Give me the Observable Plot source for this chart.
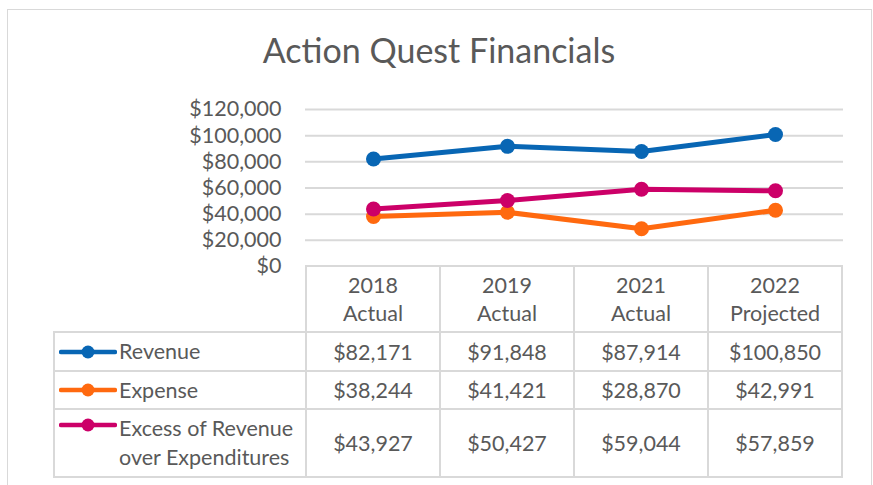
<!DOCTYPE html>
<html>
<head>
<meta charset="utf-8">
<script src="https://cdn.jsdelivr.net/npm/d3@7"></script>
<script src="https://cdn.jsdelivr.net/npm/@observablehq/plot@0.6"></script>
<style>
  html, body { margin: 0; padding: 0; background: #fff; }
  body { width: 873px; height: 485px; overflow: hidden; position: relative; font-family: Lato, "Open Sans", sans-serif; color: #595959; }
  #frame { position: absolute; left: 7px; top: 9px; width: 865px; height: 490px; border: 1.5px solid #d9d9d9; box-sizing: border-box; }
  #title { position: absolute; left: 0; top: 30px; width: 878px; text-align: center; font-size: 34px; line-height: 40px; color: #595959; }
  #chart { position: absolute; left: 0; top: 0; }
  #tbl { position: absolute; left: 53px; top: 265px; border-collapse: collapse; table-layout: fixed; width: 789px; font-size: 21.5px; color: #595959; }
  #tbl td { border: 2px solid #d9d9d9; padding: 0; text-align: center; white-space: nowrap; }
  #tbl td.blank { border: none; }
  #tbl td.leg { text-align: left; padding-left: 4px; line-height: 29px; }
  #tbl tr.hdr td { height: 64px; line-height: 28px; }
  .legrow { display: flex; align-items: center; }
  .legrow svg { flex: none; margin-right: 2px; }
</style>
</head>
<body>
<div id="frame"></div>
<div id="title">Action Quest Financials</div>
<div id="chart"></div>
<table id="tbl"><colgroup><col style="width:252px"><col style="width:134px"><col style="width:134px"><col style="width:134px"><col style="width:134px"></colgroup></table>
<script>
const years = ["2018", "2019", "2021", "2022"];
const periods = ["Actual", "Actual", "Actual", "Projected"];
const revenue = [82171, 91848, 87914, 100850];
const expense = [38244, 41421, 28870, 42991];
const excess = [43927, 50427, 59044, 57859];
const seriesNames = ["Revenue", "Expense", "Excess of Revenue over Expenditures"];
const seriesLabels = [["Revenue"], ["Expense"], ["Excess of Revenue", "over Expenditures"]];
const seriesColors = ["#0866b4", "#ff690f", "#cc0068"];
const yTicks = [0, 20000, 40000, 60000, 80000, 100000, 120000];

const seriesValues = [revenue, expense, excess];
const data = [];
seriesNames.forEach((name, s) => {
  years.forEach((yr, i) => data.push({series: name, year: yr, value: seriesValues[s][i]}));
});

const money = d => "$" + d3.format(",")(d);

const chart = Plot.plot({
  width: 873,
  height: 280,
  marginLeft: 305,
  marginRight: 30,
  marginTop: 109,
  marginBottom: 14,
  style: {fontFamily: "Lato, 'Open Sans', sans-serif", color: "#595959", background: "transparent"},
  x: {type: "point", domain: years, padding: 0.5, axis: null},
  y: {domain: [0, 120000], axis: null},
  color: {domain: seriesNames, range: seriesColors},
  marks: [
    Plot.ruleY(yTicks.filter(d => d > 0), {stroke: "#d9d9d9", strokeWidth: 2}),
    Plot.axisY({ticks: yTicks, tickSize: 0, tickPadding: 24, tickFormat: money, fontSize: 21.5, label: null}),
    ...seriesNames.flatMap(name => [
      Plot.line(data.filter(d => d.series === name), {x: "year", y: "value", stroke: "series", strokeWidth: 5}),
      Plot.dot(data.filter(d => d.series === name), {x: "year", y: "value", fill: "series", r: 7.5})
    ])
  ]
});
document.getElementById("chart").appendChild(chart);

// Data table below the plot
const tbl = document.getElementById("tbl");
const hdr = document.createElement("tr");
hdr.className = "hdr";
const blank = document.createElement("td");
blank.className = "blank";
hdr.appendChild(blank);
years.forEach((yr, i) => {
  const td = document.createElement("td");
  td.innerHTML = yr + "<br>" + periods[i];
  hdr.appendChild(td);
});
tbl.appendChild(hdr);
const rowHeights = [37, 36, 66];
seriesNames.forEach((name, s) => {
  const tr = document.createElement("tr");
  const leg = document.createElement("td");
  leg.className = "leg";
  leg.style.height = rowHeights[s] + "px";
  const c = seriesColors[s];
  leg.innerHTML = `<div class="legrow"><svg width="58" height="14"><line x1="2" y1="7" x2="56" y2="7" stroke="${c}" stroke-width="4.5" stroke-linecap="round"/><circle cx="29" cy="7" r="6.5" fill="${c}"/></svg><div>${seriesLabels[s].join("<br>")}</div></div>`;
  leg.querySelector(".legrow").style.alignItems = s === 2 ? "flex-start" : "center";
  if (s === 2) leg.querySelector("svg").style.marginTop = "4px";
  tr.appendChild(leg);
  seriesValues[s].forEach(v => {
    const td = document.createElement("td");
    td.textContent = money(v);
    tr.appendChild(td);
  });
  tbl.appendChild(tr);
});
</script>
</body>
</html>
